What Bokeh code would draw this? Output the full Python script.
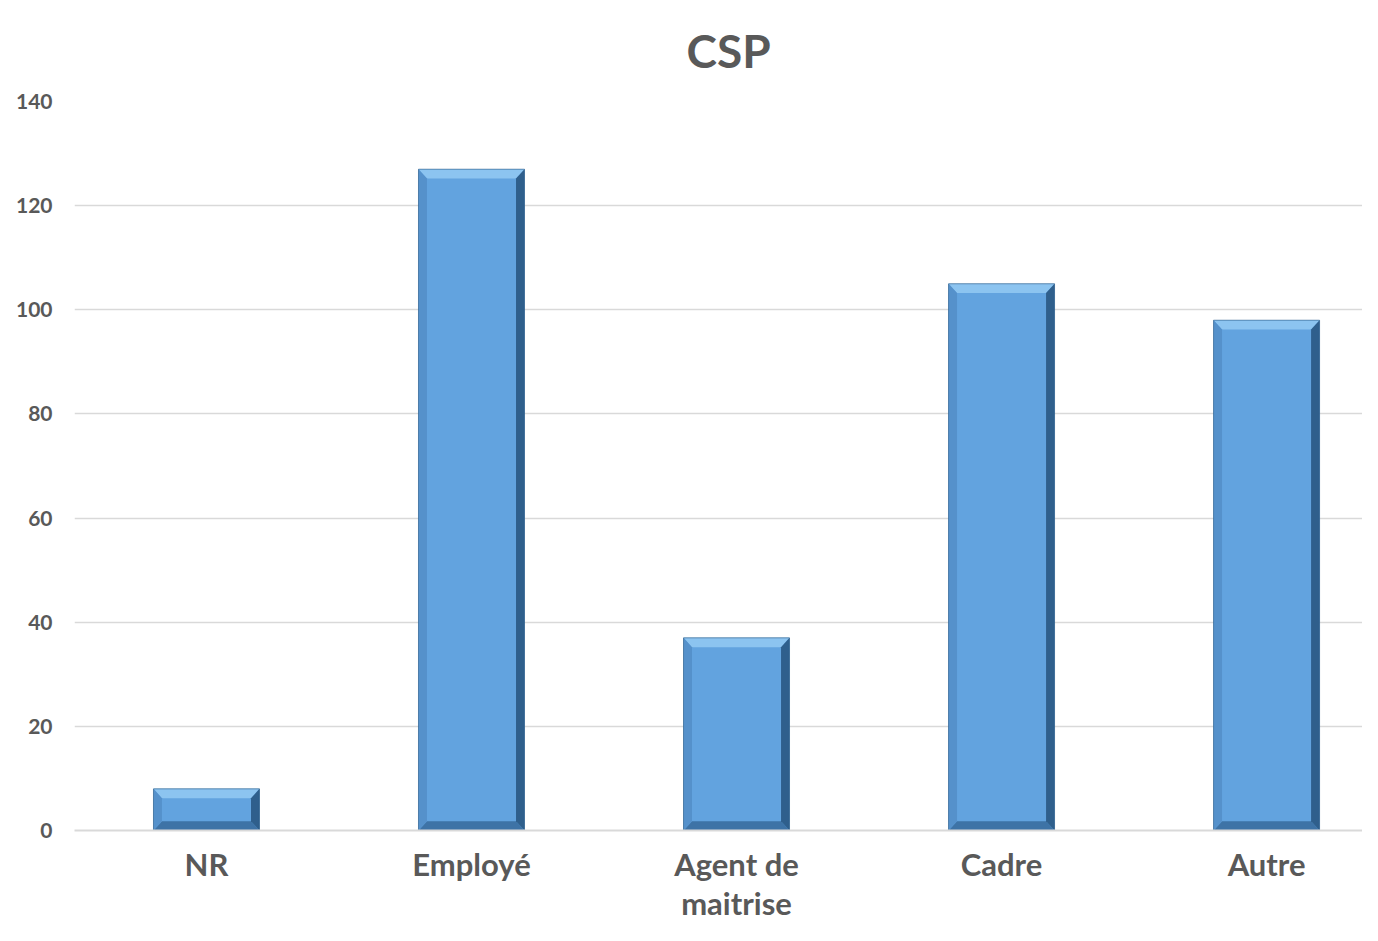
import numpy as np
from bokeh.plotting import figure
from bokeh.models import Range1d, FixedTicker, Title
from bokeh.embed import file_html
from bokeh.resources import INLINE

categories = ["NR", "Employé", "Agent de\nmaitrise", "Cadre", "Autre"]
values = [8, 127, 37, 105, 98]
y_ticks = [0, 20, 40, 60, 80, 100, 120, 140]
title_text = "CSP"

FONT = "Lato"
GREY = "#595959"

p = figure(width=1362, height=925, output_backend="svg", toolbar_location=None,
           x_range=Range1d(-0.498, 4.362), y_range=Range1d(0, 140),
           min_border_left=74, min_border_right=0, min_border_top=101, min_border_bottom=95)
p.outline_line_color = None
p.background_fill_color = "white"
p.border_fill_color = "white"

t = Title(text=title_text, align="left", offset=612, standoff=44, vertical_align="top",
          text_font=FONT, text_font_size="46px", text_font_style="bold", text_color=GREY)
p.add_layout(t, "above")

x = np.arange(len(values))
v = np.array(values, dtype=float)
w = 0.4
bx = 0.032
by = 1.8

left = x - w / 2
right = x + w / 2

# main body
p.quad(left=left, right=right, bottom=0, top=v, fill_color="#62A3DF", line_color=None)
# bevels
top_xs = [[l, r, r - bx, l + bx] for l, r in zip(left, right)]
top_ys = [[t_, t_, t_ - by, t_ - by] for t_ in v]
p.patches(top_xs, top_ys, fill_color="#8CC4F0", line_color=None)
bot_xs = [[l, r, r - bx, l + bx] for l, r in zip(left, right)]
bot_ys = [[0, 0, by, by] for _ in v]
p.patches(bot_xs, bot_ys, fill_color="#3E73A6", line_color=None)
lft_xs = [[l, l + bx, l + bx, l] for l in left]
lft_ys = [[0, by, t_ - by, t_] for t_ in v]
p.patches(lft_xs, lft_ys, fill_color="#5591CB", line_color=None)
rgt_xs = [[r, r - bx, r - bx, r] for r in right]
rgt_ys = [[0, by, t_ - by, t_] for t_ in v]
p.patches(rgt_xs, rgt_ys, fill_color="#2F5F8C", line_color=None)
# thin dark outline like the bevel edge
p.quad(left=left, right=right, bottom=0, top=v, fill_color=None,
       line_color="#2A5A86", line_width=1, line_alpha=0.6)

# axes
xaxis = p.below[0]
xaxis.ticker = FixedTicker(ticks=list(x))
xaxis.major_label_overrides = {int(i): c for i, c in zip(x, categories)}
xaxis.major_label_text_font = FONT
xaxis.major_label_text_font_size = "31px"
xaxis.major_label_text_font_style = "bold"
xaxis.major_label_text_color = GREY
xaxis.major_label_text_line_height = 1.05
xaxis.major_label_standoff = 14
xaxis.major_tick_out = 0
xaxis.major_tick_in = 0
xaxis.axis_line_color = "#D9D9D9"
xaxis.axis_line_width = 2
xaxis.major_tick_line_color = None
xaxis.minor_tick_line_color = None

p.yaxis.ticker = FixedTicker(ticks=y_ticks)
p.yaxis.major_label_text_font = FONT
p.yaxis.major_label_text_font_size = "21px"
p.yaxis.major_label_text_font_style = "bold"
p.yaxis.major_label_text_color = GREY
p.yaxis.major_label_standoff = 16
p.yaxis.axis_line_color = None
p.yaxis.major_tick_line_color = None
p.yaxis.minor_tick_line_color = None

p.xgrid.grid_line_color = None
p.ygrid.grid_line_color = "#D9D9D9"
p.ygrid.grid_line_width = 1.5

open("out.html", "w").write(file_html(p, INLINE))
